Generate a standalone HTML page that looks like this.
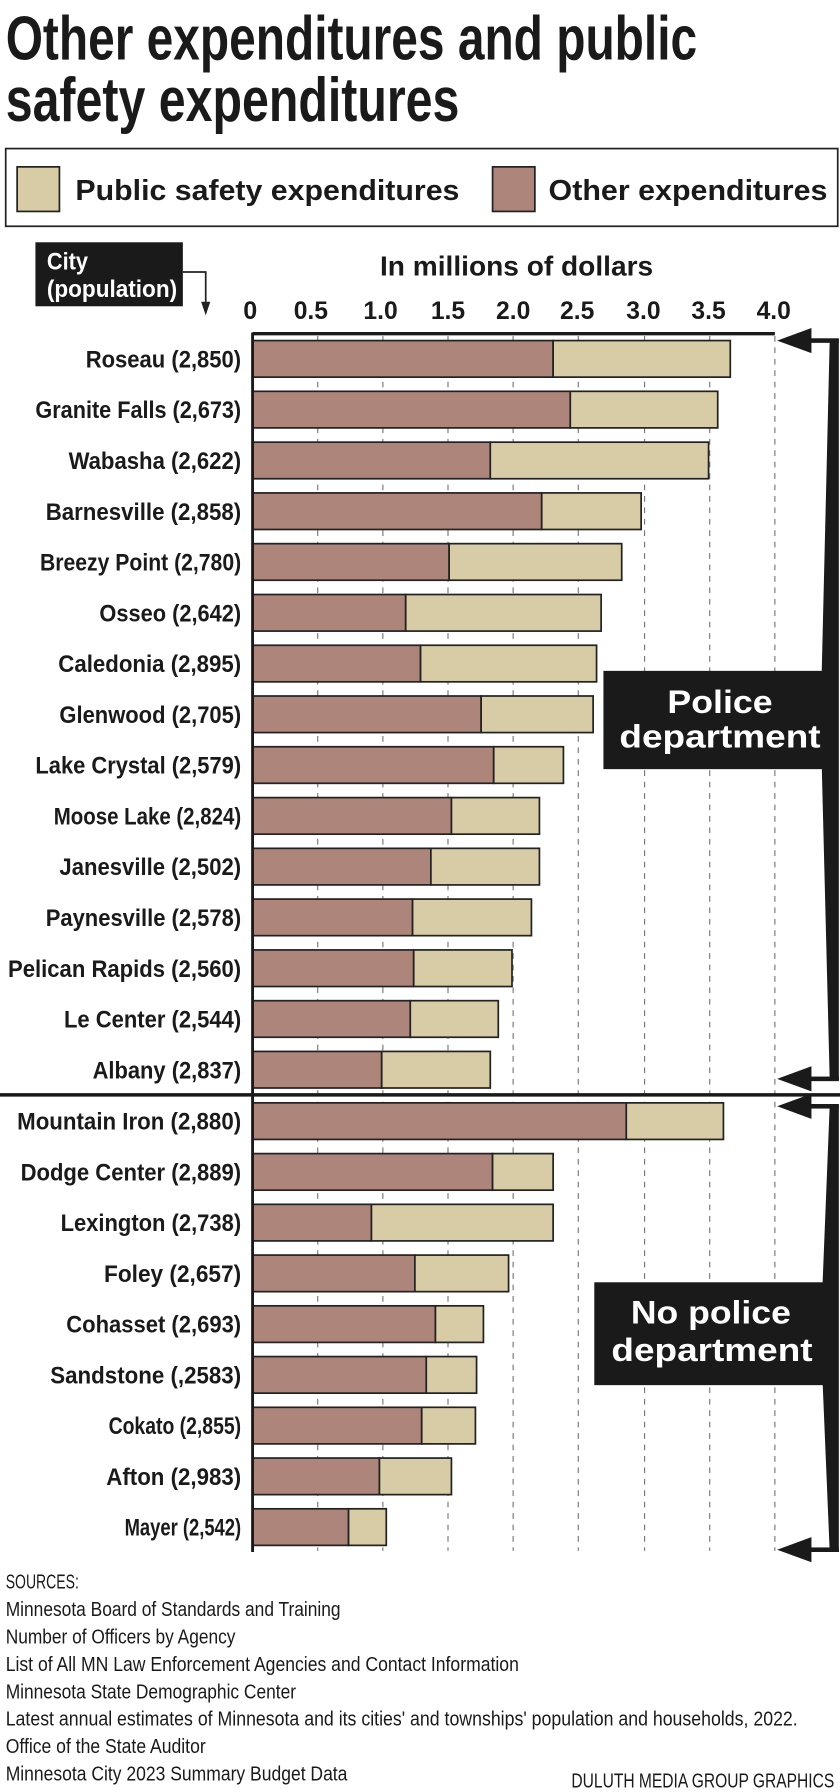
<!DOCTYPE html>
<html><head><meta charset="utf-8"><style>html,body{margin:0;padding:0;background:#fff}svg{display:block}</style></head>
<body>
<svg width="840" height="1792" viewBox="0 0 735 1568" xmlns="http://www.w3.org/2000/svg" font-family="Liberation Sans, sans-serif">
<rect width="735" height="1568" fill="#fff"/>
<text x="5" y="52" font-size="54" font-weight="bold" fill="#1a1a1a" textLength="605" lengthAdjust="spacingAndGlyphs">Other expenditures and public</text>
<text x="5" y="106" font-size="54" font-weight="bold" fill="#1a1a1a" textLength="397" lengthAdjust="spacingAndGlyphs">safety expenditures</text>
<rect x="5" y="130" width="728" height="68" fill="#fff" stroke="#222" stroke-width="1.5"/>
<rect x="15" y="146" width="37" height="39" fill="#d8cca6" stroke="#222" stroke-width="1.5"/>
<text x="66" y="175" font-size="25" font-weight="bold" fill="#1a1a1a" textLength="336" lengthAdjust="spacingAndGlyphs">Public safety expenditures</text>
<rect x="431" y="146" width="37" height="39" fill="#ad857b" stroke="#222" stroke-width="1.5"/>
<text x="480" y="175" font-size="25" font-weight="bold" fill="#1a1a1a" textLength="244" lengthAdjust="spacingAndGlyphs">Other expenditures</text>
<rect x="31" y="212" width="129" height="56" fill="#1a1a1a"/>
<text x="41" y="236" font-size="21" font-weight="bold" fill="#fff" textLength="36" lengthAdjust="spacingAndGlyphs">City</text>
<text x="41" y="260" font-size="21" font-weight="bold" fill="#fff" textLength="114" lengthAdjust="spacingAndGlyphs">(population)</text>
<polyline points="160,238 180,238 180,266" fill="none" stroke="#222" stroke-width="1.5"/>
<polygon points="176,264 184,264 180,276" fill="#222"/>
<text x="452" y="241" font-size="24" font-weight="bold" fill="#1a1a1a" text-anchor="middle" textLength="239" lengthAdjust="spacingAndGlyphs">In millions of dollars</text>
<g font-size="22" font-weight="bold" fill="#1a1a1a" text-anchor="middle">
<text x="219" y="279">0</text><text x="272" y="279" textLength="30" lengthAdjust="spacingAndGlyphs">0.5</text><text x="333" y="279" textLength="30" lengthAdjust="spacingAndGlyphs">1.0</text><text x="392" y="279" textLength="30" lengthAdjust="spacingAndGlyphs">1.5</text><text x="449" y="279" textLength="30" lengthAdjust="spacingAndGlyphs">2.0</text><text x="505" y="279" textLength="30" lengthAdjust="spacingAndGlyphs">2.5</text><text x="563" y="279" textLength="30" lengthAdjust="spacingAndGlyphs">3.0</text><text x="620" y="279" textLength="30" lengthAdjust="spacingAndGlyphs">3.5</text><text x="677" y="279" textLength="30" lengthAdjust="spacingAndGlyphs">4.0</text>
</g>
<g stroke="#777" stroke-width="1" stroke-dasharray="5,5">
<line x1="278" y1="294" x2="278" y2="1357"/><line x1="335" y1="294" x2="335" y2="1357"/><line x1="392" y1="294" x2="392" y2="1357"/><line x1="449" y1="294" x2="449" y2="1357"/><line x1="506" y1="294" x2="506" y2="1357"/><line x1="564" y1="294" x2="564" y2="1357"/><line x1="621" y1="294" x2="621" y2="1357"/><line x1="678" y1="294" x2="678" y2="1357"/>
</g>
<g stroke="#222" stroke-width="1.5">
<rect x="221" y="298" width="263" height="32" fill="#ad857b"/><rect x="484" y="298" width="155" height="32" fill="#d8cca6"/>
<rect x="221" y="342.4" width="278" height="32" fill="#ad857b"/><rect x="499" y="342.4" width="129" height="32" fill="#d8cca6"/>
<rect x="221" y="386.9" width="208" height="32" fill="#ad857b"/><rect x="429" y="386.9" width="191" height="32" fill="#d8cca6"/>
<rect x="221" y="431.3" width="253" height="32" fill="#ad857b"/><rect x="474" y="431.3" width="87" height="32" fill="#d8cca6"/>
<rect x="221" y="475.7" width="172" height="32" fill="#ad857b"/><rect x="393" y="475.7" width="151" height="32" fill="#d8cca6"/>
<rect x="221" y="520.2" width="134" height="32" fill="#ad857b"/><rect x="355" y="520.2" width="171" height="32" fill="#d8cca6"/>
<rect x="221" y="564.6" width="147" height="32" fill="#ad857b"/><rect x="368" y="564.6" width="154" height="32" fill="#d8cca6"/>
<rect x="221" y="609" width="200" height="32" fill="#ad857b"/><rect x="421" y="609" width="98" height="32" fill="#d8cca6"/>
<rect x="221" y="653.4" width="211" height="32" fill="#ad857b"/><rect x="432" y="653.4" width="61" height="32" fill="#d8cca6"/>
<rect x="221" y="697.9" width="174" height="32" fill="#ad857b"/><rect x="395" y="697.9" width="77" height="32" fill="#d8cca6"/>
<rect x="221" y="742.3" width="156" height="32" fill="#ad857b"/><rect x="377" y="742.3" width="95" height="32" fill="#d8cca6"/>
<rect x="221" y="786.7" width="140" height="32" fill="#ad857b"/><rect x="361" y="786.7" width="104" height="32" fill="#d8cca6"/>
<rect x="221" y="831.2" width="141" height="32" fill="#ad857b"/><rect x="362" y="831.2" width="86" height="32" fill="#d8cca6"/>
<rect x="221" y="875.6" width="138" height="32" fill="#ad857b"/><rect x="359" y="875.6" width="77" height="32" fill="#d8cca6"/>
<rect x="221" y="920" width="113" height="32" fill="#ad857b"/><rect x="334" y="920" width="95" height="32" fill="#d8cca6"/>
<rect x="221" y="965" width="327" height="32" fill="#ad857b"/><rect x="548" y="965" width="85" height="32" fill="#d8cca6"/>
<rect x="221" y="1009.4" width="210" height="32" fill="#ad857b"/><rect x="431" y="1009.4" width="53" height="32" fill="#d8cca6"/>
<rect x="221" y="1053.8" width="104" height="32" fill="#ad857b"/><rect x="325" y="1053.8" width="159" height="32" fill="#d8cca6"/>
<rect x="221" y="1098.2" width="142" height="32" fill="#ad857b"/><rect x="363" y="1098.2" width="82" height="32" fill="#d8cca6"/>
<rect x="221" y="1142.6" width="160" height="32" fill="#ad857b"/><rect x="381" y="1142.6" width="42" height="32" fill="#d8cca6"/>
<rect x="221" y="1187" width="152" height="32" fill="#ad857b"/><rect x="373" y="1187" width="44" height="32" fill="#d8cca6"/>
<rect x="221" y="1231.4" width="148" height="32" fill="#ad857b"/><rect x="369" y="1231.4" width="47" height="32" fill="#d8cca6"/>
<rect x="221" y="1275.8" width="111" height="32" fill="#ad857b"/><rect x="332" y="1275.8" width="63" height="32" fill="#d8cca6"/>
<rect x="221" y="1320.2" width="84" height="32" fill="#ad857b"/><rect x="305" y="1320.2" width="33" height="32" fill="#d8cca6"/>
</g>
<line x1="221" y1="292" x2="678" y2="292" stroke="#1a1a1a" stroke-width="3"/>
<line x1="221" y1="291" x2="221" y2="1358" stroke="#1a1a1a" stroke-width="2.5"/>
<line x1="0" y1="958" x2="735" y2="958" stroke="#1a1a1a" stroke-width="3"/>
<g font-size="21" font-weight="bold" fill="#1a1a1a" text-anchor="end">
<text x="211" y="321.5" textLength="136" lengthAdjust="spacingAndGlyphs">Roseau (2,850)</text>
<text x="211" y="365.9" textLength="180" lengthAdjust="spacingAndGlyphs">Granite Falls (2,673)</text>
<text x="211" y="410.4" textLength="151" lengthAdjust="spacingAndGlyphs">Wabasha (2,622)</text>
<text x="211" y="454.8" textLength="171" lengthAdjust="spacingAndGlyphs">Barnesville (2,858)</text>
<text x="211" y="499.2" textLength="176" lengthAdjust="spacingAndGlyphs">Breezy Point (2,780)</text>
<text x="211" y="543.7" textLength="124" lengthAdjust="spacingAndGlyphs">Osseo (2,642)</text>
<text x="211" y="588.1" textLength="160" lengthAdjust="spacingAndGlyphs">Caledonia (2,895)</text>
<text x="211" y="632.5" textLength="159" lengthAdjust="spacingAndGlyphs">Glenwood (2,705)</text>
<text x="211" y="676.9" textLength="180" lengthAdjust="spacingAndGlyphs">Lake Crystal (2,579)</text>
<text x="211" y="721.4" textLength="164" lengthAdjust="spacingAndGlyphs">Moose Lake (2,824)</text>
<text x="211" y="765.8" textLength="159" lengthAdjust="spacingAndGlyphs">Janesville (2,502)</text>
<text x="211" y="810.2" textLength="171" lengthAdjust="spacingAndGlyphs">Paynesville (2,578)</text>
<text x="211" y="854.7" textLength="204" lengthAdjust="spacingAndGlyphs">Pelican Rapids (2,560)</text>
<text x="211" y="899.1" textLength="155" lengthAdjust="spacingAndGlyphs">Le Center (2,544)</text>
<text x="211" y="943.5" textLength="130" lengthAdjust="spacingAndGlyphs">Albany (2,837)</text>
<text x="211" y="988.5" textLength="196" lengthAdjust="spacingAndGlyphs">Mountain Iron (2,880)</text>
<text x="211" y="1032.9" textLength="193" lengthAdjust="spacingAndGlyphs">Dodge Center (2,889)</text>
<text x="211" y="1077.3" textLength="158" lengthAdjust="spacingAndGlyphs">Lexington (2,738)</text>
<text x="211" y="1121.7" textLength="120" lengthAdjust="spacingAndGlyphs">Foley (2,657)</text>
<text x="211" y="1166.1" textLength="153" lengthAdjust="spacingAndGlyphs">Cohasset (2,693)</text>
<text x="211" y="1210.5" textLength="167" lengthAdjust="spacingAndGlyphs">Sandstone (,2583)</text>
<text x="211" y="1254.9" textLength="116" lengthAdjust="spacingAndGlyphs">Cokato (2,855)</text>
<text x="211" y="1299.3" textLength="118" lengthAdjust="spacingAndGlyphs">Afton (2,983)</text>
<text x="211" y="1343.7" textLength="102" lengthAdjust="spacingAndGlyphs">Mayer (2,542)</text>
</g>
<g fill="#1a1a1a">
<polygon points="726,297 734,297 734,945 726,945 718,630"/>
<rect x="705" y="296" width="29" height="4"/>
<polygon points="680,298 710,287 710,309"/>
<rect x="705" y="942" width="29" height="4"/>
<polygon points="680,944 710,933 710,955"/>
<polygon points="726,967 734,967 734,1358 726,1358 718,1167"/>
<rect x="705" y="966" width="29" height="4"/>
<polygon points="680,968 710,957 710,979"/>
<rect x="705" y="1354" width="29" height="4"/>
<polygon points="680,1356 710,1345 710,1367"/>
</g>
<rect x="528" y="587" width="194" height="86" fill="#1a1a1a"/>
<text x="630" y="624" font-size="28" font-weight="bold" fill="#fff" text-anchor="middle" textLength="92" lengthAdjust="spacingAndGlyphs">Police</text>
<text x="630" y="654" font-size="28" font-weight="bold" fill="#fff" text-anchor="middle" textLength="176" lengthAdjust="spacingAndGlyphs">department</text>
<rect x="520" y="1122" width="207" height="90" fill="#1a1a1a"/>
<text x="622" y="1158" font-size="28" font-weight="bold" fill="#fff" text-anchor="middle" textLength="140" lengthAdjust="spacingAndGlyphs">No police</text>
<text x="623" y="1191" font-size="28" font-weight="bold" fill="#fff" text-anchor="middle" textLength="176" lengthAdjust="spacingAndGlyphs">department</text>
<g font-size="18" fill="#1a1a1a">
<text x="5" y="1390" textLength="64" lengthAdjust="spacingAndGlyphs">SOURCES:</text>
<text x="5" y="1414" textLength="293" lengthAdjust="spacingAndGlyphs">Minnesota Board of Standards and Training</text>
<text x="5" y="1438" textLength="201" lengthAdjust="spacingAndGlyphs">Number of Officers by Agency</text>
<text x="5" y="1462" textLength="449" lengthAdjust="spacingAndGlyphs">List of All MN Law Enforcement Agencies and Contact Information</text>
<text x="5" y="1486" textLength="254" lengthAdjust="spacingAndGlyphs">Minnesota State Demographic Center</text>
<text x="5" y="1510" textLength="693" lengthAdjust="spacingAndGlyphs">Latest annual estimates of Minnesota and its cities' and townships' population and households, 2022.</text>
<text x="5" y="1534" textLength="175" lengthAdjust="spacingAndGlyphs">Office of the State Auditor</text>
<text x="5" y="1558" textLength="299" lengthAdjust="spacingAndGlyphs">Minnesota City 2023 Summary Budget Data</text>
<text x="500" y="1564" textLength="230" lengthAdjust="spacingAndGlyphs">DULUTH MEDIA GROUP GRAPHICS</text>
</g>
</svg>
</body></html>
